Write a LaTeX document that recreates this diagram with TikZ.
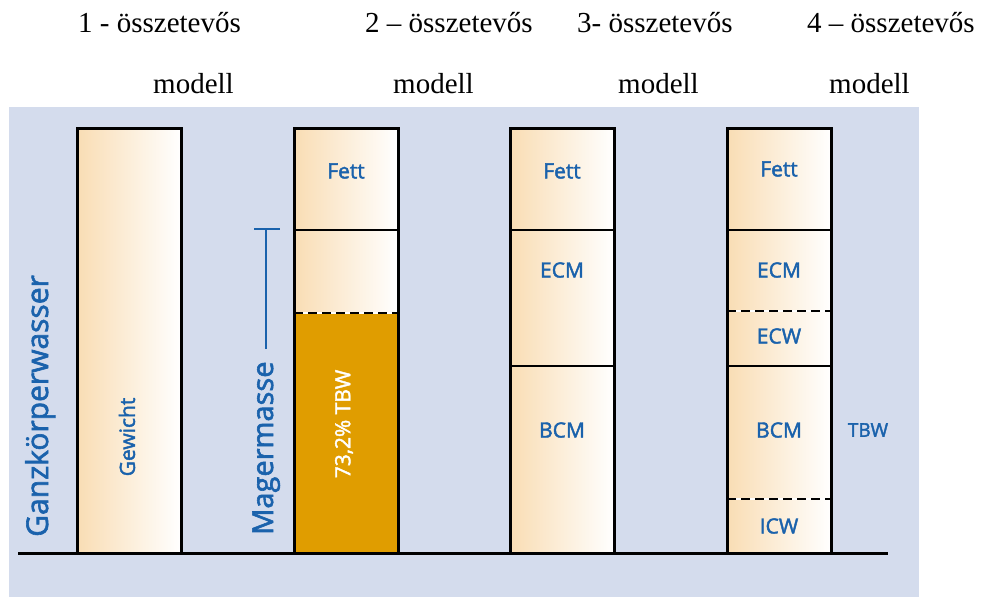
\documentclass[tikz,border=0pt]{standalone}
\usepackage{fontspec}
\setmainfont{Liberation Serif}
\newfontfamily\labelfont[FakeBold=2]{Open Sans}

\definecolor{bgblue}{RGB}{212,220,237}
\definecolor{textblue}{RGB}{26,98,172}
\definecolor{paleorange}{RGB}{249,221,180}
\definecolor{tbworange}{RGB}{224,157,0}

\tikzset{
  seg/.style={left color=paleorange, right color=white, draw=none},
  colframe/.style={draw=black, line width=3pt, minimum width=104pt, inner sep=0pt},
  divider/.style={line width=2pt},
  dashdiv/.style={line width=2.4pt, dash pattern=on 9pt off 5pt},
  gapline/.style={line width=2.4pt, white},
  lbl/.style={font=\labelfont\fontsize{21}{21}\selectfont, text=textblue, inner sep=0pt},
  bigl/.style={font=\labelfont\fontsize{30}{30}\selectfont, text=textblue, inner sep=0pt},
  head/.style={font=\fontsize{29}{29}\selectfont, inner sep=0pt, anchor=base west},
}

\begin{document}
\begin{tikzpicture}[x=1pt,y=-1pt]
\useasboundingbox (0,0) rectangle (982,597);

% panel
\fill[bgblue] (9,107) rectangle (919,597);

% headings
\node[head] (h1) at (78,32) {1 - összetevős};
\node[head] (h2) at (365,32) {2 – összetevős};
\node[head] (h3) at (577,32) {3- összetevős};
\node[head] (h4) at (807,32) {4 – összetevős};
\node[head] (m1) at (153,93) {modell};
\node[head] (m2) at (393,93) {modell};
\node[head] (m3) at (618,93) {modell};
\node[head] (m4) at (829,93) {modell};

% column 1: body weight
\shade[seg] (77,128) rectangle (181,553);

% column 2: fat / lean mass with water share
\shade[seg] (294,128) rectangle (398,230);
\shade[seg] (294,230) rectangle (398,313);
\fill[tbworange] (294,313) rectangle (398,553);
\draw[divider] (294,230) -- (398,230);
\draw[gapline] (294,313) -- (398,313);
\draw[dashdiv] (294,313) -- (398,313);

% column 3
\shade[seg] (510,128) rectangle (614,230);
\shade[seg] (510,230) rectangle (614,366);
\shade[seg] (510,366) rectangle (614,553);
\draw[divider] (510,230) -- (614,230);
\draw[divider] (510,366) -- (614,366);

% column 4
\shade[seg] (727,128) rectangle (831,230);
\shade[seg] (727,230) rectangle (831,311);
\shade[seg] (727,311) rectangle (831,366);
\shade[seg] (727,366) rectangle (831,499);
\shade[seg] (727,499) rectangle (831,553);
\draw[divider] (727,230) -- (831,230);
\draw[gapline] (727,311) -- (831,311);
\draw[dashdiv] (727,311) -- (831,311);
\draw[divider] (727,366) -- (831,366);
\draw[gapline] (727,499) -- (831,499);
\draw[dashdiv] (727,499) -- (831,499);

% column outlines
\node[colframe, minimum height=425pt] (col1) at (129,340.5) {};
\node[colframe, minimum height=425pt] (col2) at (346,340.5) {};
\node[colframe, minimum height=425pt] (col3) at (562,340.5) {};
\node[colframe, minimum height=425pt] (col4) at (779,340.5) {};

% ground line
\draw[line width=3pt] (18,553) -- (888,553);

% compartment labels
\node[lbl, rotate=90] (gew) at (127,437) {Gewicht};
\node[lbl, rotate=90, text=white] (tbw2) at (344,424) {73,2\% TBW};
\node[lbl] (fett2) at (346,171) {Fett};
\node[lbl] (fett3) at (562,171) {Fett};
\node[lbl] (ecm3) at (562,270) {ECM};
\node[lbl] (bcm3) at (562,430) {BCM};
\node[lbl] (fett4) at (779,169) {Fett};
\node[lbl] (ecm4) at (779,270) {ECM};
\node[lbl] (ecw4) at (779,336) {ECW};
\node[lbl] (bcm4) at (779,430) {BCM};
\node[lbl] (icw4) at (779,526) {ICW};
\node[lbl, font=\labelfont\fontsize{19}{19}\selectfont] (tbw4) at (868,430) {TBW};

% side captions
\node[bigl, rotate=90, anchor=base west] (gkw) at (48,537) {Ganzkörperwasser};
\node[bigl, rotate=90, anchor=base west, font=\labelfont\fontsize{29}{29}\selectfont] (mager) at (273,535) {Magermasse};

% lean mass bracket
\coordinate (mbot) at (266,349);
\coordinate (mtop) at (266,229);
\coordinate (tickl) at (254,229);
\coordinate (tickr) at (280,229);
\draw[textblue, line width=2.8pt] (mbot) -- (mtop);
\draw[textblue, line width=2.8pt] (tickl) -- (tickr);
\end{tikzpicture}
\end{document}
